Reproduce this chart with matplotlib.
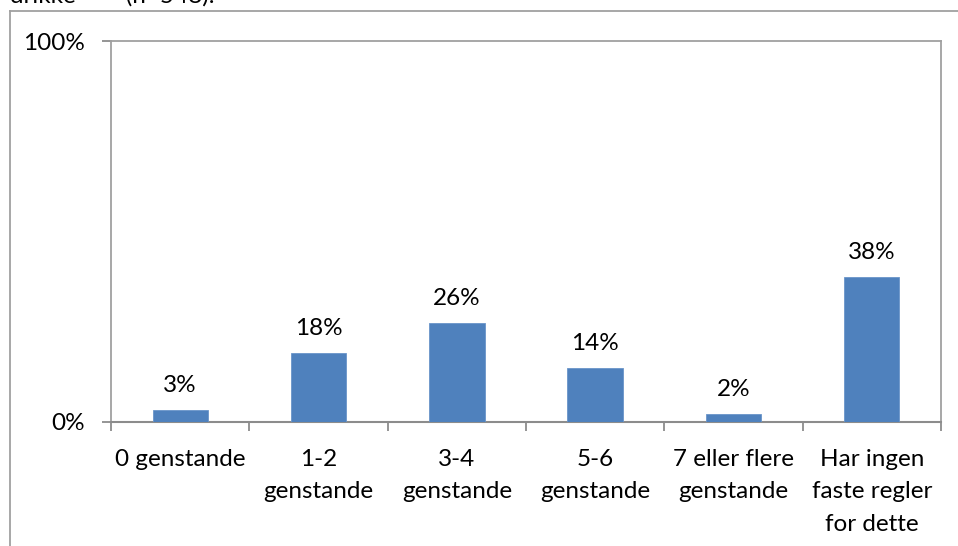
import matplotlib.pyplot as plt
from matplotlib.lines import Line2D

# categories and values (percent)
categories = ["0 genstande", "1-2\ngenstande", "3-4\ngenstande",
              "5-6\ngenstande", "7 eller flere\ngenstande",
              "Har ingen\nfaste regler\nfor dette"]
values = [3, 18, 26, 14, 2, 38]
value_labels = ["3%", "18%", "26%", "14%", "2%", "38%"]
y_ticks = [0, 100]
y_tick_labels = ["0%", "100%"]

plt.rcParams['font.family'] = ['Lato', 'DejaVu Sans']

W, H = 958, 546
fig = plt.figure(figsize=(W / 100, H / 100), dpi=100)

# plot area in pixel coords
left, right, top, bottom = 111, 941, 41, 421.5
ax = fig.add_axes([left / W, 1 - bottom / H, (right - left) / W, (bottom - top) / H])

fs = 17.5
grey = '#a0a0a0'
pos = range(len(values))
ax.bar(pos, values, width=0.4, color='#4f81bd', edgecolor='#6a95c9', linewidth=0.6, zorder=3)

for x, v, lab in zip(pos, values, value_labels):
    ax.annotate(lab, (x, v), xytext=(0, 17.5), textcoords='offset points',
                ha='center', va='center', fontsize=fs, color='black')

ax.set_xlim(-0.5, len(values) - 0.5)
ax.set_ylim(0, 100)
ax.set_yticks(y_ticks)
ax.set_yticklabels(y_tick_labels, fontsize=fs)

# category labels, tick marks between categories
ax.set_xticks([i - 0.5 for i in range(len(values) + 1)])
ax.set_xticklabels([])
ax.tick_params(axis='x', direction='out', length=6.5, width=1.3, color='#8c8c8c')
ax.tick_params(axis='y', direction='out', length=6.5, width=1.3, color='#8c8c8c', pad=12)
for i, c in enumerate(categories):
    ax.text(i, -7.2, c, ha='center', va='top', fontsize=fs, linespacing=1.68,
            transform=ax.transData)

for side in ['left', 'top', 'right']:
    ax.spines[side].set_color(grey)
    ax.spines[side].set_linewidth(1.3)
ax.spines['bottom'].set_color('#8c8c8c')
ax.spines['bottom'].set_linewidth(1.5)

# outer chart frame (partially visible)
fig.add_artist(Line2D([10 / W, 1], [1 - 11 / H, 1 - 11 / H], color=grey, linewidth=1.3))
fig.add_artist(Line2D([10 / W, 10 / W], [0, 1 - 11 / H], color=grey, linewidth=1.3))

# cut-off caption above the chart
fig.text(10 / W, 1 - 3 / H, "drikke        (n=548).", fontsize=fs, va='baseline',
         ha='left')

fig.savefig('out.png', dpi=100)
